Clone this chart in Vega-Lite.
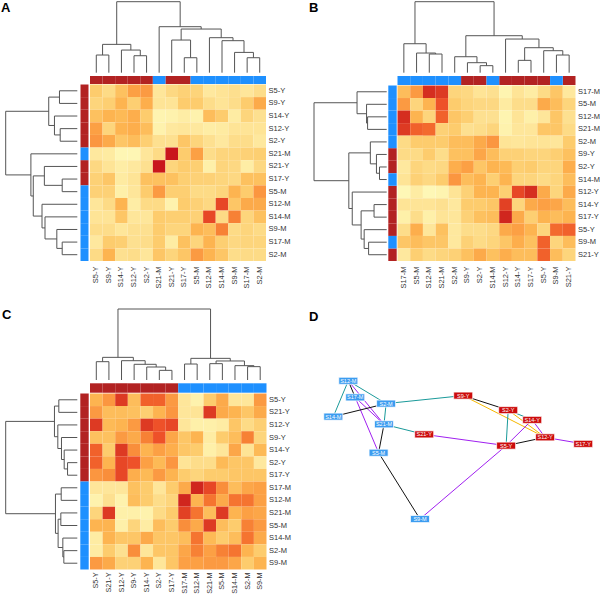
{
"$schema":"https://vega.github.io/schema/vega-lite/v6.json",
"padding":0,
"background":"white",
"bounds":"flush",
"spacing":0,
"columns":2,
"config":{"view":{"stroke":null},"axis":{"labelFont":"Liberation Sans","labelFontSize":7.5,"labelColor":"#333333","ticks":false,"tickSize":0,"domain":false,"grid":false,"title":null,"labelOverlap":false,"labelBound":false},"title":{"font":"Liberation Sans","fontSize":13,"fontWeight":"bold","color":"#000","anchor":"start","frame":"group"}},
"datasets":{
"samples":[{"id":"S2-Y","grp":"Y"},{"id":"S5-Y","grp":"Y"},{"id":"S9-Y","grp":"Y"},{"id":"S12-Y","grp":"Y"},{"id":"S14-Y","grp":"Y"},{"id":"S17-Y","grp":"Y"},{"id":"S21-Y","grp":"Y"},{"id":"S2-M","grp":"M"},{"id":"S5-M","grp":"M"},{"id":"S9-M","grp":"M"},{"id":"S12-M","grp":"M"},{"id":"S14-M","grp":"M"},{"id":"S17-M","grp":"M"},{"id":"S21-M","grp":"M"}],
"hmA":[
{"row":"S5-Y","S5-Y":0.42,"S9-Y":0.3,"S14-Y":0.48,"S12-Y":0.65,"S2-Y":0.68,"S21-M":0.2,"S21-Y":0.32,"S17-Y":0.38,"S5-M":0.36,"S12-M":0.18,"S14-M":0.22,"S9-M":0.26,"S17-M":0.2,"S2-M":0.28},
{"row":"S9-Y","S5-Y":0.35,"S9-Y":0.4,"S14-Y":0.55,"S12-Y":0.4,"S2-Y":0.58,"S21-M":0.22,"S21-Y":0.22,"S17-Y":0.42,"S5-M":0.42,"S12-M":0.28,"S14-M":0.22,"S9-M":0.28,"S17-M":0.42,"S2-M":0.6},
{"row":"S14-Y","S5-Y":0.48,"S9-Y":0.55,"S14-Y":0.52,"S12-Y":0.58,"S2-Y":0.42,"S21-M":0.08,"S21-Y":0.1,"S17-Y":0.14,"S5-M":0.1,"S12-M":0.5,"S14-M":0.42,"S9-M":0.15,"S17-M":0.35,"S2-M":0.25},
{"row":"S12-Y","S5-Y":0.65,"S9-Y":0.35,"S14-Y":0.55,"S12-Y":0.58,"S2-Y":0.5,"S21-M":0.1,"S21-Y":0.18,"S17-Y":0.2,"S5-M":0.18,"S12-M":0.14,"S14-M":0.16,"S9-M":0.22,"S17-M":0.22,"S2-M":0.22},
{"row":"S2-Y","S5-Y":0.7,"S9-Y":0.6,"S14-Y":0.45,"S12-Y":0.5,"S2-Y":0.4,"S21-M":0.25,"S21-Y":0.25,"S17-Y":0.45,"S5-M":0.35,"S12-M":0.25,"S14-M":0.18,"S9-M":0.28,"S17-M":0.28,"S2-M":0.18},
{"row":"S21-M","S5-Y":0.18,"S9-Y":0.16,"S14-Y":0.06,"S12-Y":0.06,"S2-Y":0.2,"S21-M":0.3,"S21-Y":1,"S17-Y":0.42,"S5-M":0.65,"S12-M":0.28,"S14-M":0.35,"S9-M":0.35,"S17-M":0.38,"S2-M":0.4},
{"row":"S21-Y","S5-Y":0.32,"S9-Y":0.22,"S14-Y":0.14,"S12-Y":0.18,"S2-Y":0.25,"S21-M":1,"S21-Y":0.35,"S17-Y":0.42,"S5-M":0.4,"S12-M":0.12,"S14-M":0.35,"S9-M":0.32,"S17-M":0.14,"S2-M":0.32},
{"row":"S17-Y","S5-Y":0.38,"S9-Y":0.45,"S14-Y":0.16,"S12-Y":0.22,"S2-Y":0.48,"S21-M":0.48,"S21-Y":0.48,"S17-Y":0.4,"S5-M":0.38,"S12-M":0.38,"S14-M":0.35,"S9-M":0.32,"S17-M":0.48,"S2-M":0.48},
{"row":"S5-M","S5-Y":0.38,"S9-Y":0.38,"S14-Y":0.12,"S12-Y":0.2,"S2-Y":0.42,"S21-M":0.68,"S21-Y":0.4,"S17-Y":0.4,"S5-M":0.3,"S12-M":0.3,"S14-M":0.35,"S9-M":0.55,"S17-M":0.42,"S2-M":0.7},
{"row":"S12-M","S5-Y":0.2,"S9-Y":0.3,"S14-Y":0.55,"S12-Y":0.14,"S2-Y":0.3,"S21-M":0.3,"S21-Y":0.1,"S17-Y":0.42,"S5-M":0.38,"S12-M":0.32,"S14-M":0.88,"S9-M":0.45,"S17-M":0.6,"S2-M":0.6},
{"row":"S14-M","S5-Y":0.22,"S9-Y":0.22,"S14-Y":0.45,"S12-Y":0.2,"S2-Y":0.2,"S21-M":0.42,"S21-Y":0.4,"S17-Y":0.4,"S5-M":0.38,"S12-M":0.88,"S14-M":0.3,"S9-M":0.75,"S17-M":0.35,"S2-M":0.48},
{"row":"S9-M","S5-Y":0.28,"S9-Y":0.28,"S14-Y":0.2,"S12-Y":0.25,"S2-Y":0.25,"S21-M":0.42,"S21-Y":0.35,"S17-Y":0.35,"S5-M":0.55,"S12-M":0.5,"S14-M":0.75,"S9-M":0.3,"S17-M":0.35,"S2-M":0.3},
{"row":"S17-M","S5-Y":0.18,"S9-Y":0.42,"S14-Y":0.4,"S12-Y":0.25,"S2-Y":0.28,"S21-M":0.42,"S21-Y":0.15,"S17-Y":0.48,"S5-M":0.35,"S12-M":0.55,"S14-M":0.4,"S9-M":0.32,"S17-M":0.35,"S2-M":0.35},
{"row":"S2-M","S5-Y":0.3,"S9-Y":0.55,"S14-Y":0.25,"S12-Y":0.28,"S2-Y":0.2,"S21-M":0.45,"S21-Y":0.35,"S17-Y":0.45,"S5-M":0.68,"S12-M":0.55,"S14-M":0.45,"S9-M":0.28,"S17-M":0.3,"S2-M":0.3}
],
"hmB":[
{"row":"S17-M","S17-M":0.5,"S5-M":0.68,"S12-M":0.95,"S21-M":0.92,"S2-M":0.35,"S9-Y":0.32,"S2-Y":0.22,"S14-M":0.25,"S12-Y":0.08,"S14-Y":0.22,"S17-Y":0.15,"S5-Y":0.3,"S9-M":0.45,"S21-Y":0.18},
{"row":"S5-M","S17-M":0.68,"S5-M":0.35,"S12-M":0.55,"S21-M":0.85,"S2-M":0.42,"S9-Y":0.35,"S2-Y":0.32,"S14-M":0.32,"S12-Y":0.16,"S14-Y":0.28,"S17-Y":0.28,"S5-Y":0.6,"S9-M":0.5,"S21-Y":0.35},
{"row":"S12-M","S17-M":0.95,"S5-M":0.55,"S12-M":0.35,"S21-M":0.82,"S2-M":0.45,"S9-Y":0.4,"S2-Y":0.25,"S14-M":0.25,"S12-Y":0.08,"S14-Y":0.22,"S17-Y":0.12,"S5-Y":0.2,"S9-M":0.45,"S21-Y":0.25},
{"row":"S21-M","S17-M":0.92,"S5-M":0.82,"S12-M":0.8,"S21-M":0.38,"S2-M":0.42,"S9-Y":0.25,"S2-Y":0.28,"S14-M":0.35,"S12-Y":0.1,"S14-Y":0.2,"S17-Y":0.2,"S5-Y":0.45,"S9-M":0.45,"S21-Y":0.3},
{"row":"S2-M","S17-M":0.3,"S5-M":0.42,"S12-M":0.42,"S21-M":0.42,"S2-M":0.5,"S9-Y":0.5,"S2-Y":0.6,"S14-M":0.7,"S12-Y":0.22,"S14-Y":0.2,"S17-Y":0.22,"S5-Y":0.22,"S9-M":0.2,"S21-Y":0.42},
{"row":"S9-Y","S17-M":0.3,"S5-M":0.3,"S12-M":0.42,"S21-M":0.28,"S2-M":0.48,"S9-Y":0.48,"S2-Y":0.62,"S14-M":0.5,"S12-Y":0.38,"S14-Y":0.38,"S17-Y":0.35,"S5-Y":0.35,"S9-M":0.4,"S21-Y":0.48},
{"row":"S2-Y","S17-M":0.18,"S5-M":0.35,"S12-M":0.3,"S21-M":0.32,"S2-M":0.58,"S9-Y":0.65,"S2-Y":0.45,"S14-M":0.55,"S12-Y":0.52,"S14-Y":0.4,"S17-Y":0.42,"S5-Y":0.35,"S9-M":0.35,"S21-Y":0.58},
{"row":"S14-M","S17-M":0.22,"S5-M":0.38,"S12-M":0.32,"S21-M":0.42,"S2-M":0.7,"S9-Y":0.5,"S2-Y":0.55,"S14-M":0.4,"S12-Y":0.55,"S14-Y":0.35,"S17-Y":0.35,"S5-Y":0.3,"S9-M":0.35,"S21-Y":0.5},
{"row":"S12-Y","S17-M":0.05,"S5-M":0.15,"S12-M":0.05,"S21-M":0.08,"S2-M":0.22,"S9-Y":0.38,"S2-Y":0.55,"S14-M":0.55,"S12-Y":0.4,"S14-Y":0.88,"S17-Y":0.95,"S5-Y":0.6,"S9-M":0.35,"S21-Y":0.6},
{"row":"S14-Y","S17-M":0.22,"S5-M":0.22,"S12-M":0.22,"S21-M":0.25,"S2-M":0.18,"S9-Y":0.42,"S2-Y":0.42,"S14-M":0.45,"S12-Y":0.9,"S14-Y":0.35,"S17-Y":0.6,"S5-Y":0.65,"S9-M":0.62,"S21-Y":0.5},
{"row":"S17-Y","S17-M":0.12,"S5-M":0.28,"S12-M":0.12,"S21-M":0.22,"S2-M":0.2,"S9-Y":0.38,"S2-Y":0.48,"S14-M":0.5,"S12-Y":0.97,"S14-Y":0.6,"S17-Y":0.4,"S5-Y":0.55,"S9-M":0.5,"S21-Y":0.55},
{"row":"S5-Y","S17-M":0.28,"S5-M":0.58,"S12-M":0.2,"S21-M":0.48,"S2-M":0.18,"S9-Y":0.28,"S2-Y":0.28,"S14-M":0.32,"S12-Y":0.6,"S14-Y":0.65,"S17-Y":0.55,"S5-Y":0.35,"S9-M":0.8,"S21-Y":0.82},
{"row":"S9-M","S17-M":0.45,"S5-M":0.5,"S12-M":0.45,"S21-M":0.45,"S2-M":0.18,"S9-Y":0.38,"S2-Y":0.3,"S14-M":0.35,"S12-Y":0.45,"S14-Y":0.58,"S17-Y":0.48,"S5-Y":0.82,"S9-M":0.35,"S21-Y":0.5},
{"row":"S21-Y","S17-M":0.18,"S5-M":0.4,"S12-M":0.3,"S21-M":0.35,"S2-M":0.38,"S9-Y":0.48,"S2-Y":0.6,"S14-M":0.48,"S12-Y":0.58,"S14-Y":0.5,"S17-Y":0.5,"S5-Y":0.82,"S9-M":0.5,"S21-Y":0.35}
],
"hmC":[
{"row":"S5-Y","S5-Y":0.55,"S21-Y":0.7,"S12-Y":0.92,"S9-Y":0.5,"S14-Y":0.82,"S2-Y":0.82,"S17-Y":0.68,"S17-M":0.2,"S12-M":0.1,"S21-M":0.42,"S5-M":0.6,"S14-M":0.2,"S2-M":0.2,"S9-M":0.68},
{"row":"S21-Y","S5-Y":0.68,"S21-Y":0.5,"S12-Y":0.5,"S9-Y":0.48,"S14-Y":0.4,"S2-Y":0.55,"S17-Y":0.7,"S17-M":0.2,"S12-M":0.22,"S21-M":0.92,"S5-M":0.6,"S14-M":0.55,"S2-M":0.45,"S9-M":0.6},
{"row":"S12-Y","S5-Y":0.92,"S21-Y":0.52,"S12-Y":0.55,"S9-Y":0.68,"S14-Y":0.92,"S2-Y":0.85,"S17-Y":0.88,"S17-M":0.2,"S12-M":0.12,"S21-M":0.12,"S5-M":0.15,"S14-M":0.45,"S2-M":0.3,"S9-M":0.4},
{"row":"S9-Y","S5-Y":0.48,"S21-Y":0.48,"S12-Y":0.68,"S9-Y":0.6,"S14-Y":0.75,"S2-Y":0.85,"S17-Y":0.62,"S17-M":0.45,"S12-M":0.55,"S21-M":0.15,"S5-M":0.42,"S14-M":0.5,"S2-M":0.75,"S9-M":0.35},
{"row":"S14-Y","S5-Y":0.82,"S21-Y":0.42,"S12-Y":0.92,"S9-Y":0.72,"S14-Y":0.55,"S2-Y":0.65,"S17-Y":0.58,"S17-M":0.45,"S12-M":0.42,"S21-M":0.12,"S5-M":0.2,"S14-M":0.62,"S2-M":0.22,"S9-M":0.52},
{"row":"S2-Y","S5-Y":0.82,"S21-Y":0.55,"S12-Y":0.88,"S9-Y":0.85,"S14-Y":0.65,"S2-Y":0.52,"S17-Y":0.7,"S17-M":0.22,"S12-M":0.28,"S21-M":0.28,"S5-M":0.52,"S14-M":0.45,"S2-M":0.45,"S9-M":0.18},
{"row":"S17-Y","S5-Y":0.7,"S21-Y":0.72,"S12-Y":0.88,"S9-Y":0.58,"S14-Y":0.52,"S2-Y":0.68,"S17-Y":0.55,"S17-M":0.42,"S12-M":0.35,"S21-M":0.42,"S5-M":0.42,"S14-M":0.45,"S2-M":0.45,"S9-M":0.45},
{"row":"S17-M","S5-Y":0.2,"S21-Y":0.2,"S12-Y":0.2,"S9-Y":0.48,"S14-Y":0.42,"S2-Y":0.2,"S17-Y":0.42,"S17-M":0.6,"S12-M":0.97,"S21-M":0.88,"S5-M":0.72,"S14-M":0.5,"S2-M":0.62,"S9-M":0.65},
{"row":"S12-M","S5-Y":0.1,"S21-Y":0.25,"S12-Y":0.1,"S9-Y":0.5,"S14-Y":0.42,"S2-Y":0.28,"S17-Y":0.35,"S17-M":0.97,"S12-M":0.55,"S21-M":0.78,"S5-M":0.6,"S14-M":0.78,"S2-M":0.78,"S9-M":0.65},
{"row":"S21-M","S5-Y":0.35,"S21-Y":0.92,"S12-Y":0.12,"S9-Y":0.12,"S14-Y":0.1,"S2-Y":0.3,"S17-Y":0.42,"S17-M":0.9,"S12-M":0.78,"S21-M":0.5,"S5-M":0.92,"S14-M":0.55,"S2-M":0.65,"S9-M":0.62},
{"row":"S5-M","S5-Y":0.55,"S21-Y":0.55,"S12-Y":0.12,"S9-Y":0.35,"S14-Y":0.15,"S2-Y":0.5,"S17-Y":0.42,"S17-M":0.72,"S12-M":0.6,"S21-M":0.92,"S5-M":0.5,"S14-M":0.42,"S2-M":0.75,"S9-M":0.68},
{"row":"S14-M","S5-Y":0.15,"S21-Y":0.55,"S12-Y":0.45,"S9-Y":0.45,"S14-Y":0.6,"S2-Y":0.45,"S17-Y":0.45,"S17-M":0.5,"S12-M":0.78,"S21-M":0.52,"S5-M":0.42,"S14-M":0.5,"S2-M":0.78,"S9-M":0.6},
{"row":"S2-M","S5-Y":0.15,"S21-Y":0.42,"S12-Y":0.25,"S9-Y":0.72,"S14-Y":0.2,"S2-Y":0.45,"S17-Y":0.45,"S17-M":0.62,"S12-M":0.75,"S21-M":0.65,"S5-M":0.75,"S14-M":0.78,"S2-M":0.55,"S9-M":0.42},
{"row":"S9-M","S5-Y":0.68,"S21-Y":0.6,"S12-Y":0.38,"S9-Y":0.38,"S14-Y":0.55,"S2-Y":0.2,"S17-Y":0.45,"S17-M":0.65,"S12-M":0.65,"S21-M":0.68,"S5-M":0.68,"S14-M":0.62,"S2-M":0.42,"S9-M":0.55}
],
"treeA":[
{"xl":0,"xr":1,"hl":0,"hr":0,"h":0.249},
{"xl":3,"xr":4,"hl":0,"hr":0,"h":0.239},
{"xl":2,"xr":3.5,"hl":0,"hr":0.239,"h":0.319},
{"xl":0.5,"xr":2.75,"hl":0.249,"hr":0.319,"h":0.399},
{"xl":7,"xr":8,"hl":0,"hr":0,"h":0.211},
{"xl":6,"xr":7.5,"hl":0,"hr":0.211,"h":0.46},
{"xl":12,"xr":13,"hl":0,"hr":0,"h":0.211},
{"xl":11,"xr":12.5,"hl":0,"hr":0.211,"h":0.286},
{"xl":10,"xr":11.75,"hl":0,"hr":0.286,"h":0.451},
{"xl":9,"xr":10.875,"hl":0,"hr":0.451,"h":0.493},
{"xl":6.75,"xr":9.9375,"hl":0.46,"hr":0.493,"h":0.615},
{"xl":5,"xr":8.34375,"hl":0,"hr":0.615,"h":0.648},
{"xl":1.625,"xr":6.671875,"hl":0.399,"hr":0.648,"h":1}
],
"treeB":[
{"xl":2,"xr":3,"hl":0,"hr":0,"h":0.263},
{"xl":1,"xr":2.5,"hl":0,"hr":0.263,"h":0.277},
{"xl":0,"xr":1.75,"hl":0,"hr":0.277,"h":0.408},
{"xl":6,"xr":7,"hl":0,"hr":0,"h":0.099},
{"xl":5,"xr":6.5,"hl":0,"hr":0.099,"h":0.141},
{"xl":4,"xr":5.75,"hl":0,"hr":0.141,"h":0.225},
{"xl":9,"xr":10,"hl":0,"hr":0,"h":0.174},
{"xl":12,"xr":13,"hl":0,"hr":0,"h":0.249},
{"xl":11,"xr":12.5,"hl":0,"hr":0.249,"h":0.31},
{"xl":9.5,"xr":11.75,"hl":0.174,"hr":0.31,"h":0.352},
{"xl":8,"xr":10.625,"hl":0,"hr":0.352,"h":0.474},
{"xl":4.875,"xr":9.3125,"hl":0.225,"hr":0.474,"h":0.521},
{"xl":0.875,"xr":7.09375,"hl":0.408,"hr":0.521,"h":1}
],
"treeC":[
{"xl":0,"xr":1,"hl":0,"hr":0,"h":0.258},
{"xl":5,"xr":6,"hl":0,"hr":0,"h":0.136},
{"xl":4,"xr":5.5,"hl":0,"hr":0.136,"h":0.183},
{"xl":3,"xr":4.75,"hl":0,"hr":0.183,"h":0.221},
{"xl":2,"xr":3.875,"hl":0,"hr":0.221,"h":0.272},
{"xl":0.5,"xr":2.9375,"hl":0.258,"hr":0.272,"h":0.319},
{"xl":7,"xr":8,"hl":0,"hr":0,"h":0.225},
{"xl":9,"xr":10,"hl":0,"hr":0,"h":0.23},
{"xl":12,"xr":13,"hl":0,"hr":0,"h":0.188},
{"xl":11,"xr":12.5,"hl":0,"hr":0.188,"h":0.202},
{"xl":9.5,"xr":11.75,"hl":0.23,"hr":0.202,"h":0.268},
{"xl":7.5,"xr":10.625,"hl":0.225,"hr":0.268,"h":0.305},
{"xl":1.71875,"xr":9.0625,"hl":0.319,"hr":0.305,"h":1}
],
"nodes":[
{"id":"S12-M","grp":"M","x":0.161,"y":0.273},
{"id":"S17-M","grp":"M","x":0.184,"y":0.329},
{"id":"S14-M","grp":"M","x":0.111,"y":0.394},
{"id":"S2-M","grp":"M","x":0.287,"y":0.35},
{"id":"S21-M","grp":"M","x":0.28,"y":0.42},
{"id":"S5-M","grp":"M","x":0.262,"y":0.516},
{"id":"S9-M","grp":"M","x":0.4,"y":0.74},
{"id":"S21-Y","grp":"Y","x":0.414,"y":0.454},
{"id":"S9-Y","grp":"Y","x":0.544,"y":0.323},
{"id":"S2-Y","grp":"Y","x":0.694,"y":0.372},
{"id":"S14-Y","grp":"Y","x":0.774,"y":0.405},
{"id":"S12-Y","grp":"Y","x":0.817,"y":0.464},
{"id":"S5-Y","grp":"Y","x":0.687,"y":0.492},
{"id":"S17-Y","grp":"Y","x":0.944,"y":0.486}
],
"edges":[
{"s":"S12-M","t":"S14-M","kind":"k1"},
{"s":"S12-M","t":"S2-M","kind":"k1"},
{"s":"S12-M","t":"S17-M","kind":"k3"},
{"s":"S12-M","t":"S21-M","kind":"k2"},
{"s":"S17-M","t":"S21-M","kind":"k2"},
{"s":"S17-M","t":"S5-M","kind":"k2"},
{"s":"S14-M","t":"S2-M","kind":"k3"},
{"s":"S2-M","t":"S21-M","kind":"k1"},
{"s":"S2-M","t":"S9-Y","kind":"k1"},
{"s":"S21-M","t":"S5-M","kind":"k3"},
{"s":"S21-M","t":"S21-Y","kind":"k1"},
{"s":"S5-M","t":"S9-M","kind":"k3"},
{"s":"S9-M","t":"S5-Y","kind":"k2"},
{"s":"S21-Y","t":"S5-Y","kind":"k2"},
{"s":"S9-Y","t":"S2-Y","kind":"k3"},
{"s":"S9-Y","t":"S12-Y","kind":"k4"},
{"s":"S2-Y","t":"S12-Y","kind":"k4"},
{"s":"S2-Y","t":"S14-Y","kind":"k1"},
{"s":"S2-Y","t":"S5-Y","kind":"k1"},
{"s":"S14-Y","t":"S5-Y","kind":"k2"},
{"s":"S14-Y","t":"S12-Y","kind":"k2"},
{"s":"S5-Y","t":"S12-Y","kind":"k3"},
{"s":"S12-Y","t":"S17-Y","kind":"k2"}
]
},
"concat":[
{"width":300,"height":300,
"title":{"text":"A","offset":-27.5,"dx":1,"baseline":"bottom"},
"resolve":{"scale":{"x":"independent","y":"independent","color":"independent"}},
"layer":[
{"data":{"name":"hmA"},
"transform":[{"fold":["S5-Y","S9-Y","S14-Y","S12-Y","S2-Y","S21-M","S21-Y","S17-Y","S5-M","S12-M","S14-M","S9-M","S17-M","S2-M"],"as":["col","v"]}],
"mark":{"type":"rect"},
"encoding":{
"x":{"field":"col","type":"nominal","scale":{"domain":["S5-Y","S9-Y","S14-Y","S12-Y","S2-Y","S21-M","S21-Y","S17-Y","S5-M","S12-M","S14-M","S9-M","S17-M","S2-M"],"range":[90,266],"paddingInner":0,"paddingOuter":0},"axis":{"orient":"bottom","offset":-39,"labelAngle":270,"labelPadding":5}},
"y":{"field":"row","type":"nominal","scale":{"domain":["S5-Y","S9-Y","S14-Y","S12-Y","S2-Y","S21-M","S21-Y","S17-Y","S5-M","S12-M","S14-M","S9-M","S17-M","S2-M"],"range":[84.5,261],"paddingInner":0,"paddingOuter":0},"axis":{"orient":"right","offset":-34,"labelPadding":2}},
"color":{"field":"v","type":"quantitative","scale":{"domain":[0,0.2,0.4,0.55,0.7,0.85,1],"range":["#fffdc0","#fee69a","#fdcf72","#fdb450","#fb9640","#ee5129","#c9161c"]},"legend":null}}},
{"data":{"name":"samples"},"mark":{"type":"rect"},
"encoding":{
"x":{"field":"id","type":"nominal","scale":{"domain":["S5-Y","S9-Y","S14-Y","S12-Y","S2-Y","S21-M","S21-Y","S17-Y","S5-M","S12-M","S14-M","S9-M","S17-M","S2-M"],"range":[90,266],"paddingInner":0,"paddingOuter":0},"axis":null},
"y":{"datum":0,"type":"quantitative","scale":{"domain":[0,1],"range":[84,76],"nice":false,"zero":false},"axis":null},
"y2":{"datum":1},
"color":{"field":"grp","type":"nominal","scale":{"domain":["Y","M"],"range":["#b22222","#1e90ff"]},"legend":null}}},
{"data":{"name":"samples"},"mark":{"type":"rect"},
"encoding":{
"y":{"field":"id","type":"nominal","scale":{"domain":["S5-Y","S9-Y","S14-Y","S12-Y","S2-Y","S21-M","S21-Y","S17-Y","S5-M","S12-M","S14-M","S9-M","S17-M","S2-M"],"range":[84.5,261],"paddingInner":0,"paddingOuter":0},"axis":null},
"x":{"datum":0,"type":"quantitative","scale":{"domain":[0,1],"range":[80.5,88.5],"nice":false,"zero":false},"axis":null},
"x2":{"datum":1},
"color":{"field":"grp","type":"nominal","scale":{"domain":["Y","M"],"range":["#b22222","#1e90ff"]},"legend":null}}},
{"data":{"name":"treeA"},
"encoding":{"x":{"field":"xl","type":"quantitative","scale":{"domain":[-0.5,13.5],"range":[90,266],"nice":false,"zero":false},"axis":null},"y":{"field":"h","type":"quantitative","scale":{"domain":[0,1],"range":[72.7,1.7],"nice":false,"zero":false},"axis":null}},
"layer":[
{"mark":{"type":"rule","color":"#555555","strokeWidth":1},"encoding":{"x2":{"field":"xr"}}},
{"mark":{"type":"rule","color":"#555555","strokeWidth":1},"encoding":{"y":{"field":"hl","type":"quantitative"},"y2":{"field":"h"}}},
{"mark":{"type":"rule","color":"#555555","strokeWidth":1},"encoding":{"x":{"field":"xr","type":"quantitative"},"y":{"field":"hr","type":"quantitative"},"y2":{"field":"h"}}}
]},
{"data":{"name":"treeA"},
"encoding":{"y":{"field":"xl","type":"quantitative","scale":{"domain":[-0.5,13.5],"range":[84.5,261],"nice":false,"zero":false},"axis":null},"x":{"field":"h","type":"quantitative","scale":{"domain":[0,1],"range":[77.3,5.7],"nice":false,"zero":false},"axis":null}},
"layer":[
{"mark":{"type":"rule","color":"#555555","strokeWidth":1},"encoding":{"y2":{"field":"xr"}}},
{"mark":{"type":"rule","color":"#555555","strokeWidth":1},"encoding":{"x":{"field":"hl","type":"quantitative"},"x2":{"field":"h"}}},
{"mark":{"type":"rule","color":"#555555","strokeWidth":1},"encoding":{"y":{"field":"xr","type":"quantitative"},"x":{"field":"hr","type":"quantitative"},"x2":{"field":"h"}}}
]}
]},
{"width":300,"height":300,
"title":{"text":"B","offset":-27.5,"dx":9,"baseline":"bottom"},
"resolve":{"scale":{"x":"independent","y":"independent","color":"independent"}},
"layer":[
{"data":{"name":"hmB"},
"transform":[{"fold":["S17-M","S5-M","S12-M","S21-M","S2-M","S9-Y","S2-Y","S14-M","S12-Y","S14-Y","S17-Y","S5-Y","S9-M","S21-Y"],"as":["col","v"]}],
"mark":{"type":"rect"},
"encoding":{
"x":{"field":"col","type":"nominal","scale":{"domain":["S17-M","S5-M","S12-M","S21-M","S2-M","S9-Y","S2-Y","S14-M","S12-Y","S14-Y","S17-Y","S5-Y","S9-M","S21-Y"],"range":[97.5,275.5],"paddingInner":0,"paddingOuter":0},"axis":{"orient":"bottom","offset":-39,"labelAngle":270,"labelPadding":5}},
"y":{"field":"row","type":"nominal","scale":{"domain":["S17-M","S5-M","S12-M","S21-M","S2-M","S9-Y","S2-Y","S14-M","S12-Y","S14-Y","S17-Y","S5-Y","S9-M","S21-Y"],"range":[85.5,261],"paddingInner":0,"paddingOuter":0},"axis":{"orient":"right","offset":-24.5,"labelPadding":2}},
"color":{"field":"v","type":"quantitative","scale":{"domain":[0,0.2,0.4,0.55,0.7,0.85,1],"range":["#fffdc0","#fee69a","#fdcf72","#fdb450","#fb9640","#ee5129","#c9161c"]},"legend":null}}},
{"data":{"name":"samples"},"mark":{"type":"rect"},
"encoding":{
"x":{"field":"id","type":"nominal","scale":{"domain":["S17-M","S5-M","S12-M","S21-M","S2-M","S9-Y","S2-Y","S14-M","S12-Y","S14-Y","S17-Y","S5-Y","S9-M","S21-Y"],"range":[97.5,275.5],"paddingInner":0,"paddingOuter":0},"axis":null},
"y":{"datum":0,"type":"quantitative","scale":{"domain":[0,1],"range":[85,76],"nice":false,"zero":false},"axis":null},
"y2":{"datum":1},
"color":{"field":"grp","type":"nominal","scale":{"domain":["Y","M"],"range":["#b22222","#1e90ff"]},"legend":null}}},
{"data":{"name":"samples"},"mark":{"type":"rect"},
"encoding":{
"y":{"field":"id","type":"nominal","scale":{"domain":["S17-M","S5-M","S12-M","S21-M","S2-M","S9-Y","S2-Y","S14-M","S12-Y","S14-Y","S17-Y","S5-Y","S9-M","S21-Y"],"range":[85.5,261],"paddingInner":0,"paddingOuter":0},"axis":null},
"x":{"datum":0,"type":"quantitative","scale":{"domain":[0,1],"range":[88.3,96.7],"nice":false,"zero":false},"axis":null},
"x2":{"datum":1},
"color":{"field":"grp","type":"nominal","scale":{"domain":["Y","M"],"range":["#b22222","#1e90ff"]},"legend":null}}},
{"data":{"name":"treeB"},
"encoding":{"x":{"field":"xl","type":"quantitative","scale":{"domain":[-0.5,13.5],"range":[97.5,275.5],"nice":false,"zero":false},"axis":null},"y":{"field":"h","type":"quantitative","scale":{"domain":[0,1],"range":[72.7,1.7],"nice":false,"zero":false},"axis":null}},
"layer":[
{"mark":{"type":"rule","color":"#555555","strokeWidth":1},"encoding":{"x2":{"field":"xr"}}},
{"mark":{"type":"rule","color":"#555555","strokeWidth":1},"encoding":{"y":{"field":"hl","type":"quantitative"},"y2":{"field":"h"}}},
{"mark":{"type":"rule","color":"#555555","strokeWidth":1},"encoding":{"x":{"field":"xr","type":"quantitative"},"y":{"field":"hr","type":"quantitative"},"y2":{"field":"h"}}}
]},
{"data":{"name":"treeB"},
"encoding":{"y":{"field":"xl","type":"quantitative","scale":{"domain":[-0.5,13.5],"range":[85.5,261],"nice":false,"zero":false},"axis":null},"x":{"field":"h","type":"quantitative","scale":{"domain":[0,1],"range":[86.7,14],"nice":false,"zero":false},"axis":null}},
"layer":[
{"mark":{"type":"rule","color":"#555555","strokeWidth":1},"encoding":{"y2":{"field":"xr"}}},
{"mark":{"type":"rule","color":"#555555","strokeWidth":1},"encoding":{"x":{"field":"hl","type":"quantitative"},"x2":{"field":"h"}}},
{"mark":{"type":"rule","color":"#555555","strokeWidth":1},"encoding":{"y":{"field":"xr","type":"quantitative"},"x":{"field":"hr","type":"quantitative"},"x2":{"field":"h"}}}
]}
]},
{"width":300,"height":296,
"title":{"text":"C","offset":-35,"dx":2,"baseline":"bottom"},
"resolve":{"scale":{"x":"independent","y":"independent","color":"independent"}},
"layer":[
{"data":{"name":"hmC"},
"transform":[{"fold":["S5-Y","S21-Y","S12-Y","S9-Y","S14-Y","S2-Y","S17-Y","S17-M","S12-M","S21-M","S5-M","S14-M","S2-M","S9-M"],"as":["col","v"]}],
"mark":{"type":"rect"},
"encoding":{
"x":{"field":"col","type":"nominal","scale":{"domain":["S5-Y","S21-Y","S12-Y","S9-Y","S14-Y","S2-Y","S17-Y","S17-M","S12-M","S21-M","S5-M","S14-M","S2-M","S9-M"],"range":[90,266.5],"paddingInner":0,"paddingOuter":0},"axis":{"orient":"bottom","offset":-26.5,"labelAngle":270,"labelPadding":2.5,"labelFontSize":7.2}},
"y":{"field":"row","type":"nominal","scale":{"domain":["S5-Y","S21-Y","S12-Y","S9-Y","S14-Y","S2-Y","S17-Y","S17-M","S12-M","S21-M","S5-M","S14-M","S2-M","S9-M"],"range":[93.5,269.5],"paddingInner":0,"paddingOuter":0},"axis":{"orient":"right","offset":-33.5,"labelPadding":2}},
"color":{"field":"v","type":"quantitative","scale":{"domain":[0,0.2,0.4,0.55,0.7,0.85,1],"range":["#fffdc0","#fee69a","#fdcf72","#fdb450","#fb9640","#ee5129","#c9161c"]},"legend":null}}},
{"data":{"name":"samples"},"mark":{"type":"rect"},
"encoding":{
"x":{"field":"id","type":"nominal","scale":{"domain":["S5-Y","S21-Y","S12-Y","S9-Y","S14-Y","S2-Y","S17-Y","S17-M","S12-M","S21-M","S5-M","S14-M","S2-M","S9-M"],"range":[90,266.5],"paddingInner":0,"paddingOuter":0},"axis":null},
"y":{"datum":0,"type":"quantitative","scale":{"domain":[0,1],"range":[92.7,83.3],"nice":false,"zero":false},"axis":null},
"y2":{"datum":1},
"color":{"field":"grp","type":"nominal","scale":{"domain":["Y","M"],"range":["#b22222","#1e90ff"]},"legend":null}}},
{"data":{"name":"samples"},"mark":{"type":"rect"},
"encoding":{
"y":{"field":"id","type":"nominal","scale":{"domain":["S5-Y","S21-Y","S12-Y","S9-Y","S14-Y","S2-Y","S17-Y","S17-M","S12-M","S21-M","S5-M","S14-M","S2-M","S9-M"],"range":[93.5,269.5],"paddingInner":0,"paddingOuter":0},"axis":null},
"x":{"datum":0,"type":"quantitative","scale":{"domain":[0,1],"range":[80.3,88.7],"nice":false,"zero":false},"axis":null},
"x2":{"datum":1},
"color":{"field":"grp","type":"nominal","scale":{"domain":["Y","M"],"range":["#b22222","#1e90ff"]},"legend":null}}},
{"data":{"name":"treeC"},
"encoding":{"x":{"field":"xl","type":"quantitative","scale":{"domain":[-0.5,13.5],"range":[90,266.5],"nice":false,"zero":false},"axis":null},"y":{"field":"h","type":"quantitative","scale":{"domain":[0,1],"range":[80,9],"nice":false,"zero":false},"axis":null}},
"layer":[
{"mark":{"type":"rule","color":"#555555","strokeWidth":1},"encoding":{"x2":{"field":"xr"}}},
{"mark":{"type":"rule","color":"#555555","strokeWidth":1},"encoding":{"y":{"field":"hl","type":"quantitative"},"y2":{"field":"h"}}},
{"mark":{"type":"rule","color":"#555555","strokeWidth":1},"encoding":{"x":{"field":"xr","type":"quantitative"},"y":{"field":"hr","type":"quantitative"},"y2":{"field":"h"}}}
]},
{"data":{"name":"treeC"},
"encoding":{"y":{"field":"xl","type":"quantitative","scale":{"domain":[-0.5,13.5],"range":[93.5,269.5],"nice":false,"zero":false},"axis":null},"x":{"field":"h","type":"quantitative","scale":{"domain":[0,1],"range":[77.3,5.7],"nice":false,"zero":false},"axis":null}},
"layer":[
{"mark":{"type":"rule","color":"#555555","strokeWidth":1},"encoding":{"y2":{"field":"xr"}}},
{"mark":{"type":"rule","color":"#555555","strokeWidth":1},"encoding":{"x":{"field":"hl","type":"quantitative"},"x2":{"field":"h"}}},
{"mark":{"type":"rule","color":"#555555","strokeWidth":1},"encoding":{"y":{"field":"xr","type":"quantitative"},"x":{"field":"hr","type":"quantitative"},"x2":{"field":"h"}}}
]}
]},
{"width":300,"height":296,
"title":{"text":"D","offset":-36.5,"dx":9,"baseline":"bottom"},
"resolve":{"scale":{"color":"independent"}},
"layer":[
{"data":{"name":"edges"},
"transform":[{"lookup":"s","from":{"data":{"name":"nodes"},"key":"id","fields":["x","y"]},"as":["sx","sy"]},{"lookup":"t","from":{"data":{"name":"nodes"},"key":"id","fields":["x","y"]},"as":["tx","ty"]}],
"mark":{"type":"rule","strokeWidth":1},
"encoding":{
"x":{"field":"sx","type":"quantitative","scale":{"domain":[0,1],"nice":false,"zero":false},"axis":null},
"y":{"field":"sy","type":"quantitative","scale":{"domain":[0,1],"reverse":true,"nice":false,"zero":false},"axis":null},
"x2":{"field":"tx"},"y2":{"field":"ty"},
"color":{"field":"kind","type":"nominal","scale":{"domain":["k1","k2","k3","k4"],"range":["#1a9a9a","#a020f0","#111111","#f5b800"]},"legend":null}}},
{"data":{"name":"nodes"},
"mark":{"type":"point","shape":"M-1,-0.37H1V0.37H-1Z","filled":true,"size":361,"opacity":1,"stroke":"#ffffff","strokeWidth":0.7},
"encoding":{
"x":{"field":"x","type":"quantitative"},
"y":{"field":"y","type":"quantitative"},
"color":{"field":"grp","type":"nominal","scale":{"domain":["Y","M"],"range":["#cc0c0c","#3c9cf0"]},"legend":null}}},
{"data":{"name":"nodes"},
"mark":{"type":"text","font":"Liberation Sans","fontSize":5.5,"color":"#ffffff","baseline":"middle","align":"center"},
"encoding":{
"x":{"field":"x","type":"quantitative"},
"y":{"field":"y","type":"quantitative"},
"text":{"field":"id"}}}
]}
]
}
